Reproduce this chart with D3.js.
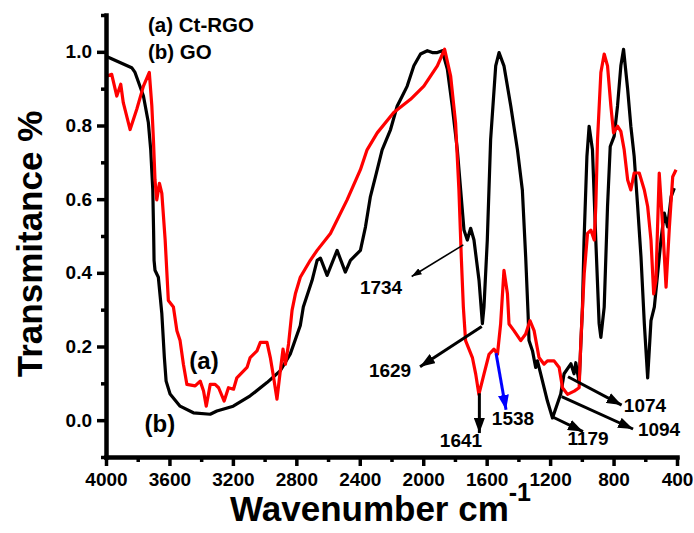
<!DOCTYPE html>
<html>
<head>
<meta charset="utf-8">
<script src="https://cdn.jsdelivr.net/npm/d3@7"></script>
<style>
  body { margin: 0; background: #fff; }
  text { font-family: "Liberation Sans", Arial, sans-serif; font-weight: bold; }
</style>
</head>
<body>
<svg id="chart"></svg>
<script>
// (b) GO - black trace
var goWave = [4000, 3912, 3838, 3817, 3764, 3733, 3718, 3705, 3700, 3697, 3691, 3670, 3648, 3632, 3621, 3596, 3533, 3449, 3343, 3301, 3198, 3091, 2985, 2901, 2838, 2775, 2756, 2701, 2669, 2648, 2606, 2543, 2491, 2459, 2396, 2364, 2333, 2301, 2259, 2206, 2164, 2132, 2101, 2059, 2017, 1974, 1943, 1911, 1880, 1848, 1817, 1785, 1764, 1743, 1722, 1701, 1680, 1648, 1627, 1617, 1596, 1575, 1543, 1522, 1491, 1448, 1406, 1375, 1354, 1339, 1333, 1311, 1291, 1280, 1259, 1217, 1185, 1133, 1112, 1069, 1049, 1038, 1017, 996, 986, 968, 954, 933, 912, 891, 880, 859, 838, 821, 796, 775, 754, 737, 711, 691, 670, 648, 627, 606, 585, 564, 543, 522, 501, 480, 459, 437, 417];
var goTrans = [0.988, 0.971, 0.957, 0.944, 0.880, 0.808, 0.734, 0.625, 0.516, 0.434, 0.407, 0.388, 0.289, 0.170, 0.106, 0.071, 0.038, 0.020, 0.016, 0.025, 0.038, 0.066, 0.102, 0.134, 0.180, 0.257, 0.307, 0.379, 0.434, 0.440, 0.393, 0.461, 0.402, 0.434, 0.461, 0.525, 0.607, 0.661, 0.734, 0.789, 0.853, 0.880, 0.907, 0.962, 0.994, 1.003, 0.998, 0.998, 1.003, 0.953, 0.853, 0.734, 0.625, 0.516, 0.489, 0.521, 0.489, 0.379, 0.262, 0.307, 0.489, 0.762, 0.962, 0.998, 0.962, 0.853, 0.734, 0.625, 0.443, 0.289, 0.216, 0.188, 0.143, 0.161, 0.125, 0.052, 0.006, 0.071, 0.126, 0.153, 0.126, 0.156, 0.102, 0.307, 0.489, 0.716, 0.798, 0.734, 0.489, 0.262, 0.225, 0.307, 0.580, 0.743, 0.771, 0.853, 0.962, 1.007, 0.898, 0.798, 0.716, 0.580, 0.443, 0.262, 0.115, 0.270, 0.307, 0.398, 0.489, 0.562, 0.525, 0.607, 0.630];

// (a) Ct-RGO - red trace
var rgoWave = [3996, 3964, 3932, 3907, 3891, 3848, 3806, 3764, 3727, 3711, 3701, 3691, 3680, 3663, 3648, 3627, 3617, 3607, 3575, 3553, 3533, 3512, 3490, 3438, 3406, 3385, 3368, 3343, 3312, 3290, 3255, 3228, 3196, 3175, 3111, 3091, 3048, 3027, 2985, 2964, 2943, 2922, 2901, 2884, 2869, 2849, 2827, 2806, 2775, 2712, 2669, 2585, 2480, 2396, 2354, 2290, 2186, 2080, 1996, 1911, 1865, 1827, 1796, 1775, 1760, 1747, 1733, 1690, 1669, 1649, 1617, 1585, 1554, 1532, 1512, 1491, 1469, 1459, 1428, 1385, 1354, 1327, 1301, 1270, 1238, 1217, 1175, 1143, 1122, 1090, 1048, 1017, 1006, 985, 964, 943, 922, 912, 901, 880, 859, 838, 817, 800, 775, 754, 733, 711, 691, 670, 638, 606, 585, 564, 547, 533, 512, 490, 469, 448, 427, 406];
var rgoTrans = [0.934, 0.939, 0.880, 0.912, 0.862, 0.789, 0.844, 0.907, 0.944, 0.853, 0.762, 0.652, 0.598, 0.643, 0.616, 0.489, 0.407, 0.325, 0.307, 0.243, 0.216, 0.152, 0.097, 0.093, 0.106, 0.079, 0.038, 0.097, 0.097, 0.088, 0.052, 0.088, 0.084, 0.115, 0.143, 0.170, 0.188, 0.211, 0.211, 0.170, 0.115, 0.057, 0.134, 0.193, 0.152, 0.207, 0.298, 0.343, 0.388, 0.434, 0.461, 0.507, 0.598, 0.680, 0.734, 0.780, 0.835, 0.871, 0.907, 0.962, 1.007, 0.934, 0.807, 0.625, 0.443, 0.307, 0.216, 0.170, 0.125, 0.070, 0.125, 0.179, 0.193, 0.179, 0.261, 0.407, 0.343, 0.261, 0.243, 0.216, 0.234, 0.270, 0.243, 0.170, 0.152, 0.161, 0.161, 0.143, 0.088, 0.070, 0.079, 0.088, 0.216, 0.398, 0.507, 0.516, 0.489, 0.580, 0.762, 0.944, 0.994, 0.962, 0.853, 0.780, 0.798, 0.784, 0.734, 0.652, 0.625, 0.671, 0.671, 0.625, 0.580, 0.489, 0.343, 0.379, 0.671, 0.525, 0.361, 0.525, 0.661, 0.680];

var xMajor = [4000, 3600, 3200, 2800, 2400, 2000, 1600, 1200, 800, 400];
var xMinor = [3800, 3400, 3000, 2600, 2200, 1800, 1400, 1000, 600];
var yMajor = [0.0, 0.2, 0.4, 0.6, 0.8, 1.0];
var yMinor = [-0.1, 0.1, 0.3, 0.5, 0.7, 0.9, 1.1];

// peak labels: arrow from (w1,t1) to (w2,t2), text centred at (tw,tt)
var peakLabels = ["1734", "1629", "1641", "1538", "1179", "1094", "1074"];
var peakFrom = [[1747, 0.476], [1631, 0.254], [1646, 0.073], [1541, 0.182], [1190, 0.010], [1127, 0.064], [1087, 0.118]];
var peakTo = [[2073, 0.390], [2020, 0.145], [1646, -0.035], [1478, 0.028], [993, -0.031], [677, -0.024], [749, 0.041]];
var peakText = [[2266, 0.362], [2209, 0.136], [1762, -0.054], [1434, 0.006], [961, -0.048], [513, -0.024], [602, 0.041]];

var width = 694, height = 533;

var svg = d3.select("#chart")
    .attr("width", width)
    .attr("height", height);

var x = d3.scaleLinear().domain([4000, 400]).range([106, 677]);
var y = d3.scaleLinear().domain([-0.1, 1.1]).range([457, 15]);

// arrow heads
var defs = svg.append("defs");
function addHead(id, color, len, wid) {
  defs.append("marker")
      .attr("id", id)
      .attr("viewBox", "0 " + (-wid / 2) + " " + len + " " + wid)
      .attr("refX", len)
      .attr("refY", 0)
      .attr("markerWidth", len)
      .attr("markerHeight", wid)
      .attr("markerUnits", "userSpaceOnUse")
      .attr("orient", "auto")
    .append("path")
      .attr("d", "M0," + (-wid / 2) + "L" + len + ",0L0," + (wid / 2) + "Z")
      .attr("fill", color);
}
addHead("headBlack", "#000", 15, 11);
addHead("headThin", "#000", 10, 7);
addHead("headBlue", "#0000ff", 15, 11);

var line = d3.line()
    .x(function (d) { return x(d[0]); })
    .y(function (d) { return y(d[1]); });

svg.append("path")
    .attr("d", line(d3.zip(goWave, goTrans)))
    .attr("fill", "none")
    .attr("stroke", "#000")
    .attr("stroke-width", 3.2)
    .attr("stroke-linejoin", "round");

svg.append("path")
    .attr("d", line(d3.zip(rgoWave, rgoTrans)))
    .attr("fill", "none")
    .attr("stroke", "#ff0000")
    .attr("stroke-width", 3.2)
    .attr("stroke-linejoin", "round");

// axes
var xAxis = svg.append("g")
    .attr("transform", "translate(0,457)")
    .call(d3.axisBottom(x).tickValues(xMajor).tickSize(9).tickSizeOuter(0).tickPadding(7).tickFormat(d3.format("d")));
var xMin = svg.append("g")
    .attr("transform", "translate(0,457)")
    .call(d3.axisBottom(x).tickValues(xMinor).tickSize(5).tickFormat(""));
xMin.select(".domain").remove();

var yAxis = svg.append("g")
    .attr("transform", "translate(106,0)")
    .call(d3.axisLeft(y).tickValues(yMajor).tickSize(9).tickSizeOuter(0).tickPadding(5).tickFormat(d3.format(".1f")));
var yMin = svg.append("g")
    .attr("transform", "translate(106,0)")
    .call(d3.axisLeft(y).tickValues(yMinor).tickSize(5).tickFormat(""));
yMin.select(".domain").remove();

svg.selectAll(".domain").attr("stroke-width", 4.5).attr("stroke-linecap", "square");
svg.selectAll(".tick line").attr("stroke-width", 3.5);
svg.selectAll(".tick text")
    .attr("font-size", 19)
    .attr("font-family", "Liberation Sans, Arial, sans-serif")
    .attr("font-weight", "bold")
    .attr("fill", "#000");

// axis titles
svg.append("text")
    .attr("transform", "translate(42,244) rotate(-90)")
    .attr("text-anchor", "middle")
    .attr("font-size", 35)
    .text("Transmitance %");

var xt = svg.append("text")
    .attr("x", 230)
    .attr("y", 521)
    .attr("font-size", 35);
xt.append("tspan").text("Wavenumber cm");
xt.append("tspan").attr("font-size", 25).attr("dy", -20).text("-1");

// legend
svg.append("text").attr("x", 148).attr("y", 32).attr("font-size", 20.5).text("(a) Ct-RGO");
svg.append("text").attr("x", 148).attr("y", 59).attr("font-size", 20.5).text("(b) GO");

// curve labels
svg.append("text").attr("x", x(3382)).attr("y", y(0.163)).attr("dy", "0.35em")
    .attr("text-anchor", "middle").attr("font-size", 24).text("(a)");
svg.append("text").attr("x", x(3660)).attr("y", y(-0.008)).attr("dy", "0.35em")
    .attr("text-anchor", "middle").attr("font-size", 24).text("(b)");

// peak arrows
peakLabels.forEach(function (lab, i) {
  var thin = lab === "1734";
  var blue = lab === "1538";
  svg.append("line")
      .attr("x1", x(peakFrom[i][0])).attr("y1", y(peakFrom[i][1]))
      .attr("x2", x(peakTo[i][0])).attr("y2", y(peakTo[i][1]))
      .attr("stroke", blue ? "#0000ff" : "#000")
      .attr("stroke-width", thin ? 1.6 : 3)
      .attr("marker-end", "url(#" + (thin ? "headThin" : (blue ? "headBlue" : "headBlack")) + ")");
  svg.append("text")
      .attr("x", x(peakText[i][0]))
      .attr("y", y(peakText[i][1]))
      .attr("dy", "0.36em")
      .attr("text-anchor", "middle")
      .attr("font-size", 19)
      .text(lab);
});
</script>
</body>
</html>
